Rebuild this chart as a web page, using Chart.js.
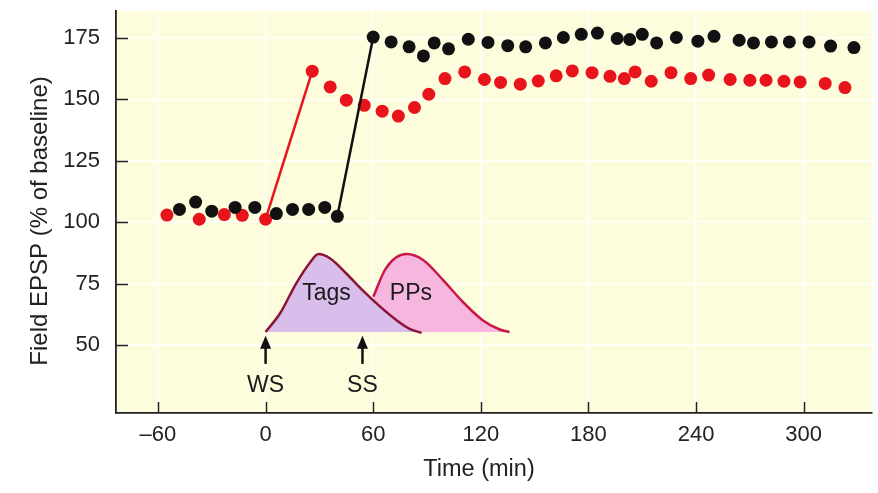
<!DOCTYPE html>
<html>
<head>
<meta charset="utf-8">
<script src="https://cdn.jsdelivr.net/npm/chart.js@4.4.1/dist/chart.umd.min.js"></script>
<style>
  html, body { margin: 0; padding: 0; background: #ffffff; }
  #wrap { width: 878px; height: 493px; }
</style>
</head>
<body>
<div id="wrap"><canvas id="c" width="878" height="493"></canvas></div>
<script>
// ---- Data ----
const xTicks = [-60, 0, 60, 120, 180, 240, 300];
const yTicks = [50, 75, 100, 125, 150, 175];

const blackT = [-48, -39, -30, -17, -6, 6, 15, 24, 33, 40, 60, 70, 80, 88, 94, 102, 113, 124, 135, 145, 156, 166, 176, 185, 196, 203, 210, 218, 229, 241, 250, 264, 272, 282, 292, 303, 315, 328];
const blackV = [105.2, 108.2, 104.5, 106, 106, 103.5, 105.2, 105.2, 106, 102.4, 175.4, 173.4, 171.4, 167.7, 173, 170.6, 174.5, 173.2, 171.9, 171.4, 173, 175.2, 176.5, 177, 174.8, 174.4, 176.5, 173, 175.2, 173.7, 175.7, 174.1, 173, 173.4, 173.4, 173.4, 171.7, 171.1];
const blackJumpFrom = 9;   // segment drawn as line (strong stimulus)

const redT = [-55, -37, -23, -13, 0, 26, 36, 45, 55, 65, 74, 83, 91, 100, 111, 122, 131, 142, 152, 162, 171, 182, 192, 200, 206, 215, 226, 237, 247, 259, 270, 279, 289, 298, 312, 323];
const redV = [102.9, 101.2, 103.1, 102.8, 101.2, 161.5, 155.1, 149.7, 147.6, 145.2, 143.2, 146.7, 152.1, 158.5, 161.2, 158.1, 156.9, 156.2, 157.5, 159.6, 161.6, 160.9, 159.4, 158.5, 161.2, 157.4, 160.9, 158.5, 159.9, 158.1, 157.8, 157.8, 157.4, 157.1, 156.5, 154.8];
const redJumpFrom = 4;     // segment drawn as line (weak stimulus)

const tagsT = [0, 8, 17, 25, 29.5, 36, 45, 54, 64, 73, 80, 87];
const tagsV = [55.3, 62.8, 75, 83.8, 87, 85.2, 79.1, 72.3, 65.5, 60.1, 56.7, 54.9];
const ppsT = [60, 67, 78.6, 88, 99, 110, 121, 130.5, 136];
const ppsV = [69.6, 81.1, 87, 84.5, 76.4, 67.5, 60.1, 56.3, 55.3];
const curveBase = 55.3;

const markerLabels = ['WS', 'SS'];
const markerT = [0, 54];
const curveLabels = ['Tags', 'PPs'];
const curveLabelT = [34, 81];
const curveLabelV = [71, 71];

const xTitle = 'Time (min)';
const yTitle = 'Field EPSP (% of baseline)';

// ---- Helpers ----
const pts = (xs, ys) => xs.map((x, i) => ({ x: x, y: ys[i] }));
const FONT = '"Liberation Sans", Arial, Helvetica, sans-serif';
const TXT = '#222222';

const bgPlugin = {
  id: 'bg',
  beforeDraw(chart) {
    const { ctx, chartArea: a } = chart;
    ctx.save();
    ctx.fillStyle = '#fdfcdc';
    ctx.fillRect(a.left, a.top, a.right - a.left, a.bottom - a.top);
    ctx.restore();
  }
};

const decoPlugin = {
  id: 'deco',
  afterDatasetsDraw(chart) {
    const { ctx, chartArea: a, scales: { x, y } } = chart;
    ctx.save();
    // inner tick marks
    ctx.strokeStyle = TXT;
    ctx.lineWidth = 1.5;
    xTicks.forEach(t => {
      const px = Math.round(x.getPixelForValue(t)) + 0.5;
      ctx.beginPath(); ctx.moveTo(px, a.bottom); ctx.lineTo(px, a.bottom - 11); ctx.stroke();
    });
    yTicks.forEach(v => {
      const py = Math.round(y.getPixelForValue(v)) + 0.5;
      ctx.beginPath(); ctx.moveTo(a.left, py); ctx.lineTo(a.left + 12, py); ctx.stroke();
    });
    // curve labels
    ctx.fillStyle = '#1a1a1a';
    ctx.font = '23px ' + FONT;
    ctx.textAlign = 'center';
    ctx.textBaseline = 'middle';
    curveLabels.forEach((s, i) => {
      ctx.fillText(s, x.getPixelForValue(curveLabelT[i]), y.getPixelForValue(curveLabelV[i]));
    });
    // stimulus arrows
    markerLabels.forEach((s, i) => {
      const px = x.getPixelForValue(markerT[i]);
      const tip = y.getPixelForValue(53.8);
      const tail = y.getPixelForValue(42.3);
      ctx.strokeStyle = '#111';
      ctx.fillStyle = '#111';
      ctx.lineWidth = 2.5;
      ctx.beginPath(); ctx.moveTo(px, tail); ctx.lineTo(px, tip + 8); ctx.stroke();
      ctx.beginPath();
      ctx.moveTo(px, tip); ctx.lineTo(px - 5.5, tip + 13); ctx.lineTo(px + 5.5, tip + 13); ctx.closePath(); ctx.fill();
      ctx.fillStyle = '#1a1a1a';
      ctx.fillText(s, px, y.getPixelForValue(33.4));
    });
    // axis titles
    ctx.fillStyle = TXT;
    ctx.font = '23.5px ' + FONT;
    ctx.fillText(xTitle, x.getPixelForValue(119), 470);
    ctx.save();
    ctx.font = '24px ' + FONT;
    ctx.translate(40, y.getPixelForValue(100.5));
    ctx.rotate(-Math.PI / 2);
    ctx.fillText(yTitle, 0, 0);
    ctx.restore();
    ctx.restore();
  }
};

const ctx = document.getElementById('c').getContext('2d');
new Chart(ctx, {
  type: 'scatter',
  data: {
    datasets: [
      {
        label: 'strong',
        data: pts(blackT, blackV),
        showLine: true,
        borderWidth: 2.5,
        borderColor: '#111111',
        segment: { borderColor: c => c.p0DataIndex === blackJumpFrom ? '#111111' : 'rgba(0,0,0,0)' },
        pointRadius: 6.5,
        pointBackgroundColor: '#111111',
        pointBorderWidth: 0,
        pointHoverRadius: 6.5
      },
      {
        label: 'weak',
        data: pts(redT, redV),
        showLine: true,
        borderWidth: 2.5,
        borderColor: '#e8141c',
        segment: { borderColor: c => c.p0DataIndex === redJumpFrom ? '#e8141c' : 'rgba(0,0,0,0)' },
        pointRadius: 6.5,
        pointBackgroundColor: '#e8141c',
        pointBorderWidth: 0,
        pointHoverRadius: 6.5
      },
      {
        label: 'Tags',
        data: pts(tagsT, tagsV),
        showLine: true,
        tension: 0.4,
        cubicInterpolationMode: 'monotone',
        borderColor: '#8a1538',
        borderWidth: 2.5,
        backgroundColor: '#d9bdea',
        fill: { value: curveBase },
        pointRadius: 0
      },
      {
        label: 'PPs',
        data: pts(ppsT, ppsV),
        showLine: true,
        tension: 0.4,
        cubicInterpolationMode: 'monotone',
        borderColor: '#c8184a',
        borderWidth: 2.5,
        backgroundColor: '#f6b6de',
        fill: { value: curveBase },
        pointRadius: 0
      }
    ]
  },
  options: {
    responsive: false,
    animation: false,
    devicePixelRatio: 1,
    layout: { padding: { top: 11, right: 4, left: 0, bottom: 0 } },
    plugins: { legend: { display: false }, tooltip: { enabled: false } },
    scales: {
      x: {
        type: 'linear',
        min: -83.4,
        max: 337.8,
        afterBuildTicks: s => { s.ticks = xTicks.map(v => ({ value: v })); },
        afterFit: s => { s.height = 80; s.paddingLeft = 0; s.paddingRight = 0; },
        grid: { color: 'rgba(255,255,255,0.95)', lineWidth: 1.5, drawTicks: false },
        border: { display: true, color: TXT, width: 1.8 },
        ticks: {
          padding: 9,
          color: TXT,
          font: { family: FONT, size: 22 },
          callback: v => (v < 0 ? '\u2013' + Math.abs(v) : String(v))
        },
        title: { display: false }
      },
      y: {
        type: 'linear',
        min: 22.3,
        max: 186,
        afterBuildTicks: s => { s.ticks = yTicks.map(v => ({ value: v })); },
        afterFit: s => { s.width = 116; s.paddingTop = 0; s.paddingBottom = 0; },
        grid: { color: 'rgba(255,255,255,0.95)', lineWidth: 1.5, drawTicks: false },
        border: { display: true, color: TXT, width: 1.8 },
        ticks: {
          padding: 16,
          color: TXT,
          font: { family: FONT, size: 22 }
        },
        title: { display: false }
      }
    }
  },
  plugins: [bgPlugin, decoPlugin]
});
</script>
</body>
</html>
